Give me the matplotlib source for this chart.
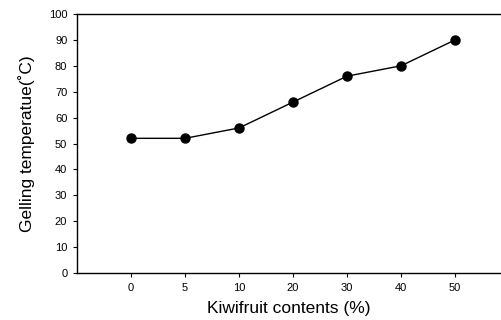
import matplotlib
matplotlib.use("Agg")
import matplotlib.pyplot as plt

plt.rcParams["font.family"] = ["Liberation Sans", "DejaVu Sans"]

contents = ["0", "5", "10", "20", "30", "40", "50"]
gelling_temp = [52, 52, 56, 66, 76, 80, 90]

fig = plt.figure(figsize=(5.01, 3.2), dpi=100)
ax = fig.add_axes([77 / 501, 1 - 273 / 320, 1 - 77 / 501, (273 - 14) / 320])

x = list(range(len(contents)))
ax.plot(x, gelling_temp, color="black", lw=1.0, marker="o", ms=6.5)

ax.set_xlim(-1, 6.85)
ax.set_ylim(0, 100)
ax.set_xticks(x)
ax.set_xticklabels(contents)
ax.set_yticks(range(0, 101, 10))
ax.tick_params(labelsize=8, length=3, width=0.8, direction="out", pad=4)
ax.spines["right"].set_visible(False)
for s in ["top", "left", "bottom"]:
    ax.spines[s].set_linewidth(1.0)

ax.set_xlabel("Kiwifruit contents (%)", fontsize=12.5, labelpad=6)
ax.set_ylabel("Gelling temperatue(\u02daC)", fontsize=12.5, labelpad=10)

fig.savefig("out.png", dpi=100)
